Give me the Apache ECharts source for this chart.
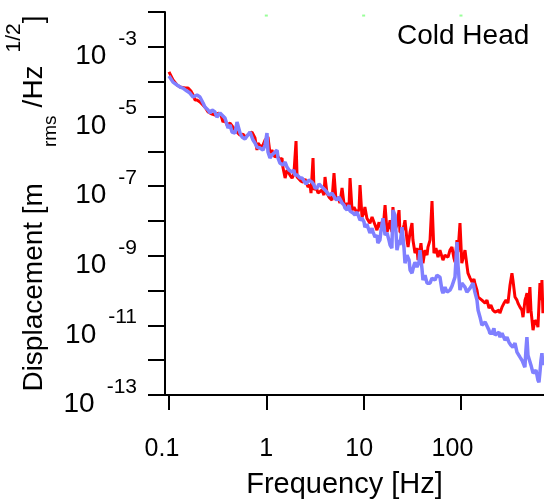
<!DOCTYPE html>
<html>
<head>
<meta charset="utf-8">
<script src="https://cdn.jsdelivr.net/npm/echarts@6.0.0/dist/echarts.min.js"></script>
<style>
html,body{margin:0;padding:0;background:#fff;}
#chart{width:544px;height:503px;}
</style>
</head>
<body>
<div id="chart"></div>
<script>
// Frequency [Hz] and displacement [m_rms/Hz^1/2]
const redFreq = [0.100,0.110,0.121,0.130,0.146,0.157,0.168,0.177,0.185,0.194,0.208,0.218,0.234,0.252,0.264,0.277,0.297,0.311,0.326,0.342,0.359,0.376,0.394,0.424,0.455,0.477,0.500,0.537,0.576,0.604,0.633,0.680,0.713,0.765,0.802,0.822,0.882,0.925,0.970,1.04,1.09,1.14,1.23,1.29,1.38,1.45,1.48,1.56,1.63,1.75,1.84,1.92,2.02,2.07,2.17,2.27,2.38,2.50,2.68,2.81,2.88,3.02,3.09,3.24,3.40,3.56,3.73,3.91,4.01,4.20,4.41,4.51,4.73,4.96,5.20,5.45,5.71,6.00,6.29,6.44,6.75,7.07,7.25,7.60,7.96,8.55,8.97,9.18,9.62,10.1,10.3,10.8,11.6,12.2,12.5,13.1,13.7,14.4,14.7,15.4,15.8,16.6,17.4,18.2,18.7,19.5,20.0,21.0,22.0,23.1,23.6,24.8,26.0,26.6,27.9,28.6,30.0,31.4,32.1,33.7,35.3,36.2,37.9,38.8,40.7,42.7,44.8,45.8,48.1,50.4,52.8,55.3,58.1,60.8,65.3,68.5,73.6,77.1,80.8,84.7,86.8,91.0,93.2,97.7,102,107,110,115,118,124,130,136,139,146,150,157,164,177,185,194,203,213,224,234,246,251,264,277,290,304,319,334,342,359,376,385,404,423,434,455,465,477,488,511,524,550,576,604,618,648,664,679,695,712];
const redAmp = [1.9e-4,1.12e-4,8.0e-5,7.0e-5,6.55e-5,6.55e-5,5.36e-5,4.12e-5,2.96e-5,2.96e-5,2.6e-5,2.27e-5,1.86e-5,1.34e-5,1.25e-5,1.17e-5,1.10e-5,1.25e-5,1.25e-5,1.10e-5,6.9e-6,7.9e-6,5.66e-6,6.46e-6,4.96e-6,4.07e-6,3.56e-6,2.92e-6,3.12e-6,2.56e-6,2.56e-6,3.33e-6,3.56e-6,2.40e-6,1.08e-6,1.72e-6,1.32e-6,1.51e-6,2.10e-6,2.56e-6,8.9e-7,1.08e-6,6.8e-7,7.8e-7,5.6e-7,6.4e-7,3.52e-7,1.70e-7,2.9e-7,2.07e-7,1.70e-7,2.21e-7,1.96e-6,1.82e-7,1.94e-7,1.39e-7,1.30e-7,1.59e-7,9.4e-8,1.07e-7,6.3e-8,6.4e-7,7.7e-8,9.4e-8,6.3e-8,6.7e-8,7.7e-8,5.5e-8,1.82e-7,6.3e-8,4.83e-8,5.5e-8,3.96e-8,2.36e-7,3.96e-8,4.83e-8,3.25e-8,8.8e-8,3.04e-8,2.49e-8,3.25e-8,2.33e-8,1.70e-7,2.04e-8,2.49e-8,1.68e-8,2.18e-8,1.07e-7,1.29e-8,1.79e-8,2.49e-8,1.20e-8,8.6e-9,1.29e-8,1.47e-8,7.6e-9,5.4e-9,9.2e-9,6.6e-9,9.2e-9,5.4e-9,2.84e-8,4.8e-9,7.1e-9,1.05e-8,4.8e-9,2.49e-8,5.4e-9,7.6e-9,2.04e-8,4.8e-9,4.5e-9,7.6e-9,1.05e-8,2.81e-9,1.77e-9,4.8e-9,8.6e-9,2.81e-9,1.19e-9,1.65e-9,7.5e-10,1.45e-9,2.30e-9,6.1e-10,1.45e-9,1.04e-9,1.77e-9,2.81e-9,3.71e-8,1.19e-9,1.65e-9,9.1e-10,1.45e-9,7.5e-10,1.04e-9,9.1e-10,1.45e-9,1.77e-9,8.5e-10,6.5e-10,2.81e-9,1.27e-9,8.6e-9,6.1e-10,1.04e-9,1.45e-9,5.4e-10,3.15e-10,2.27e-10,1.75e-10,2.13e-10,1.63e-10,1.03e-10,6.5e-11,6.5e-11,5.3e-11,4.35e-11,5.3e-11,3.12e-11,3.80e-11,2.73e-11,2.40e-11,2.24e-11,2.73e-11,2.24e-11,3.33e-11,4.35e-11,5.3e-11,4.35e-11,1.43e-10,3.15e-10,1.99e-10,6.5e-11,5.3e-11,4.35e-11,3.33e-11,2.73e-11,1.72e-11,5.3e-11,6.5e-11,8.4e-11,2.24e-11,1.25e-10,2.73e-11,7.3e-12,1.41e-11,1.16e-11,8.9e-12,1.63e-10,5.3e-11,1.99e-10,2.24e-11,5.3e-11];

const blueFreq = [0.100,0.110,0.121,0.130,0.139,0.153,0.164,0.177,0.185,0.194,0.208,0.224,0.234,0.252,0.264,0.277,0.297,0.311,0.334,0.350,0.376,0.394,0.404,0.424,0.444,0.477,0.500,0.537,0.563,0.604,0.633,0.680,0.730,0.765,0.802,0.861,0.925,0.970,1.016,1.04,1.09,1.14,1.23,1.29,1.32,1.38,1.48,1.56,1.63,1.71,1.75,1.84,1.92,1.97,2.07,2.17,2.22,2.33,2.44,2.56,2.74,2.95,3.09,3.16,3.32,3.48,3.82,4.01,4.20,4.41,4.51,4.73,5.08,5.32,5.58,6.00,6.29,6.44,6.75,7.07,7.25,7.78,8.15,8.55,9.18,9.62,10.1,10.3,10.8,11.6,12.2,12.5,13.1,13.7,14.0,14.7,15.1,15.8,16.6,17.4,18.2,18.7,19.5,20.0,21.0,22.0,23.1,23.6,24.8,26.0,26.6,27.9,29.3,30.0,31.4,32.9,33.7,35.3,37.0,37.9,39.7,40.7,42.7,44.8,48.1,50.4,54.1,56.7,60.8,63.7,65.3,68.5,71.9,77.1,80.8,86.8,91.0,93.2,97.7,102,110,115,124,133,139,146,150,157,164,168,177,185,194,198,208,218,224,234,246,251,264,283,297,311,326,342,359,376,404,423,444,454,465,476,488,511,524,550,576,590,618,633,648,664,679,695,712];
const blueAmp = [1.45e-4,9.7e-5,8.0e-5,7.0e-5,6.55e-5,5.36e-5,4.7e-5,3.61e-5,3.86e-5,4.12e-5,3.61e-5,2.43e-5,1.86e-5,1.53e-5,1.25e-5,1.53e-5,1.34e-5,9.6e-6,1.25e-5,1.25e-5,9.0e-6,9.0e-6,4.64e-6,5.66e-6,3.56e-6,3.33e-6,6.9e-6,3.33e-6,2.56e-6,2.24e-6,2.10e-6,3.56e-6,2.10e-6,1.72e-6,1.32e-6,1.24e-6,1.08e-6,1.51e-6,3.33e-6,9.5e-7,6.4e-7,7.8e-7,9.5e-7,1.08e-6,6.4e-7,4.6e-7,4.0e-7,4.9e-7,3.52e-7,2.9e-7,3.29e-7,2.52e-7,2.9e-7,2.07e-7,2.07e-7,2.36e-7,1.70e-7,1.70e-7,1.94e-7,1.14e-7,1.49e-7,1.30e-7,1.07e-7,8.8e-8,8.8e-8,1.14e-7,8.8e-8,7.7e-8,6.7e-8,5.5e-8,4.83e-8,6.3e-8,4.52e-8,3.96e-8,4.83e-8,3.25e-8,2.84e-8,2.33e-8,2.04e-8,2.84e-8,1.91e-8,1.68e-8,1.47e-8,1.79e-8,1.05e-8,1.20e-8,9.2e-9,6.6e-9,8.1e-9,4.5e-9,6.2e-9,4.8e-9,3.42e-9,3.91e-9,2.30e-9,2.81e-9,5.4e-9,1.20e-8,3.91e-9,4.5e-9,2.81e-9,2.02e-9,1.65e-9,2.04e-8,1.47e-8,1.45e-9,2.81e-9,2.02e-9,6.6e-9,1.65e-9,6.1e-10,1.04e-9,7.5e-10,3.86e-10,3.15e-10,5.4e-10,6.5e-10,4.7e-10,6.5e-10,1.45e-9,4.4e-10,1.99e-10,2.76e-10,1.63e-10,1.63e-10,2.27e-10,1.99e-10,2.76e-10,2.43e-10,1.03e-10,8.4e-11,1.25e-10,9.0e-11,1.03e-10,1.34e-10,2.43e-10,2.47e-9,5.4e-10,1.03e-10,1.63e-10,1.25e-10,9.0e-11,1.17e-10,1.63e-10,9.0e-11,5.3e-11,2.73e-11,1.72e-11,1.01e-11,8.9e-12,1.24e-11,1.16e-11,7.3e-12,5.97e-12,5.97e-12,8.2e-12,5.2e-12,4.58e-12,6.4e-12,4.58e-12,5.97e-12,3.76e-12,4.58e-12,3.29e-12,2.7e-12,2.37e-12,3.08e-12,1.70e-12,1.22e-12,1.0e-12,7.2e-13,6.3e-13,1.94e-12,4.58e-12,1.39e-12,1.22e-12,7.2e-13,4.23e-13,3.71e-13,5.16e-13,2.66e-13,2.33e-13,4.52e-13,1.0e-12,1.59e-12,7.2e-13,1.22e-12];

// small green marks along the top edge
const markFreq = [1, 10, 100];
const markAmp = [7.9e-3, 7.9e-3, 7.9e-3];

const xTickValues = [0.1, 1, 10, 100];
const xTickLabels = ['0.1', '1', '10', '100'];
const yTickValues = [1e-13,1e-12,1e-11,1e-10,1e-9,1e-8,1e-7,1e-6,1e-5,1e-4,1e-3,1e-2];
const yLabelValues = [1e-13,1e-11,1e-9,1e-7,1e-5,1e-3];

const FONT = "'Liberation Sans', Arial, Helvetica, sans-serif";

function pairs(xs, ys) { return xs.map((x, i) => [x, ys[i]]); }

function xLabel(v) {
  const i = xTickValues.findIndex(t => Math.abs(Math.log10(t) - Math.log10(v)) < 1e-6);
  return i < 0 ? '' : '{k' + i + '|' + xTickLabels[i] + '}';
}
const xRich = {
  k0: {fontSize: 25, fontFamily: FONT, color: '#000', padding: [0, 14, 0, 0]},
  k1: {fontSize: 25, fontFamily: FONT, color: '#000', padding: [0, 0, 0, 0]},
  k2: {fontSize: 25, fontFamily: FONT, color: '#000', padding: [0, 9, 0, 0]},
  k3: {fontSize: 25, fontFamily: FONT, color: '#000', padding: [0, 17, 0, 0]}
};

const chart = echarts.init(document.getElementById('chart'), null, {renderer: 'canvas'});
chart.setOption({
  backgroundColor: '#ffffff',
  animation: false,
  grid: {left: 165, top: 12, width: 379, height: 383, containLabel: false, outerBoundsMode: 'none'},
  xAxis: {
    type: 'log', logBase: 10, min: 0.091, max: 713,
    axisLine: {show: true, lineStyle: {color: '#000', width: 2}},
    axisTick: {show: true, length: 15, inside: false, lineStyle: {color: '#000', width: 2}, customValues: xTickValues},
    minorTick: {show: false},
    splitLine: {show: false},
    axisLabel: {
      customValues: xTickValues, margin: 42, color: '#000', fontSize: 25, fontFamily: FONT,
      formatter: xLabel, rich: xRich
    },
    name: 'Frequency [Hz]', nameLocation: 'middle', nameGap: 75, nameMoveOverlap: false,
    nameTextStyle: {color: '#000', fontSize: 29, fontFamily: FONT, padding: [0, 20, 0, 0]}
  },
  yAxis: {
    type: 'log', logBase: 10, min: 1e-13, max: 1e-2,
    axisLine: {show: true, lineStyle: {color: '#000', width: 2}},
    axisTick: {show: true, length: 17, inside: false, lineStyle: {color: '#000', width: 2}, customValues: yTickValues},
    minorTick: {show: false},
    splitLine: {show: false},
    axisLabel: {
      customValues: yLabelValues, margin: 28, color: '#000', fontFamily: FONT,
      formatter: v => '{b|10}{e|' + Math.round(Math.log10(v)) + '}',
      rich: {
        b: {fontSize: 28, fontFamily: FONT, color: '#000', verticalAlign: 'bottom', padding: [19, 0, 0, 0]},
        e: {fontSize: 21, fontFamily: FONT, color: '#000', verticalAlign: 'top', padding: [5, 0, 0, 12]}
      }
    },
    name: '{a|Displacement [m}{s|rms}{h|/Hz}{p|1/2}{a|]}',
    nameLocation: 'middle', nameGap: 100, nameMoveOverlap: false,
    nameTextStyle: {
      color: '#000', fontFamily: FONT,
      rich: {
        a: {fontSize: 28, fontFamily: FONT, color: '#000', verticalAlign: 'middle'},
        s: {fontSize: 19, fontFamily: FONT, color: '#000', verticalAlign: 'middle', padding: [33, 0, 0, 36]},
        h: {fontSize: 28, fontFamily: FONT, color: '#000', verticalAlign: 'middle', padding: [0, 0, 0, 8]},
        p: {fontSize: 21, fontFamily: FONT, color: '#000', verticalAlign: 'middle', padding: [0, 0, 40, 13]}
      }
    }
  },
  graphic: [{
    type: 'text', x: 397, y: 36, silent: true,
    style: {text: 'Cold Head', fontSize: 28, fontFamily: FONT, fill: '#000',
            align: 'left', verticalAlign: 'middle', textAlign: 'left', textVerticalAlign: 'middle'}
  }],
  series: [
    {name: 'red', type: 'line', data: pairs(redFreq, redAmp), showSymbol: false, symbol: 'none',
     lineStyle: {color: '#ff0000', width: 3}, itemStyle: {color: '#ff0000'}, clip: true, z: 2},
    {name: 'blue', type: 'line', data: pairs(blueFreq, blueAmp), showSymbol: false, symbol: 'none',
     lineStyle: {color: '#8080ff', width: 3.5}, itemStyle: {color: '#8080ff'}, clip: true, z: 3},
    {name: 'marks', type: 'scatter', data: pairs(markFreq, markAmp), symbol: 'rect', symbolSize: [3, 2],
     itemStyle: {color: '#80ff80'}, z: 4}
  ]
});
</script>
</body>
</html>
